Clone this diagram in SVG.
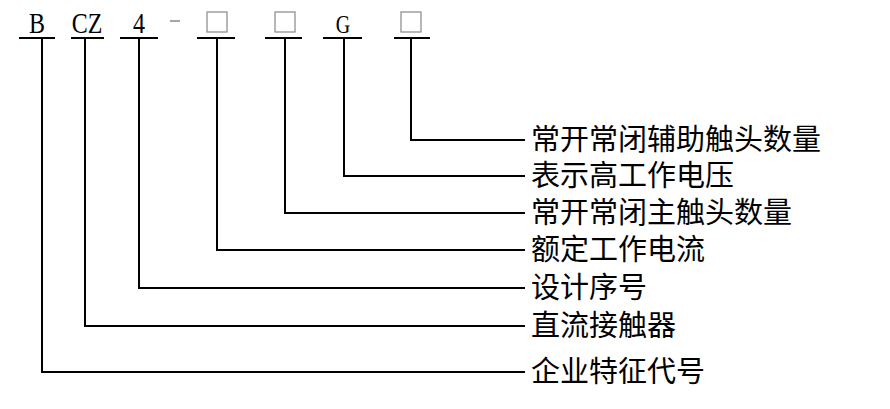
<svg xmlns="http://www.w3.org/2000/svg" width="890" height="409" viewBox="0 0 890 409">
<style>
.c{stroke:#000;stroke-width:2;fill:none}
.t{font-family:"Liberation Serif","Noto Sans CJK SC",serif;font-size:29px;fill:#000}
.h{font-family:"Liberation Serif",serif;font-size:30px;fill:#000;text-anchor:middle}
.b{fill:#fff;stroke:#888;stroke-width:1.2}
</style>
<rect width="890" height="409" fill="#fff"/>
<g id="code">
<text class="h" transform="translate(37 33) scale(0.8 1)">B</text>
<text class="h" transform="translate(87 33) scale(0.8 1)">CZ</text>
<text class="h" transform="translate(139 33) scale(0.8 1)">4</text>
<line x1="170" y1="21" x2="180" y2="21" stroke="#888" stroke-width="1.5"/>
<rect class="b" x="207" y="12" width="20" height="20"/>
<rect class="b" x="275" y="12" width="20" height="20"/>
<text class="h" transform="translate(343 33) scale(0.8 1)" style="font-size:25px">G</text>
<rect class="b" x="401" y="12" width="20" height="20"/>
</g>
<g id="connectors" class="c">
<path d="M19 38H55M71 38H104M120 38H158M197 38H235M265 38H302M323 38H362M394 38H430"/>
<path d="M411 38V140H525"/>
<path d="M344 38V176H525"/>
<path d="M285 38V213H525"/>
<path d="M217 38V250H525"/>
<path d="M139 38V288H525"/>
<path d="M85 38V326H525"/>
<path d="M42 38V372H525"/>
</g>
<g id="labels">
<text class="t" x="531" y="150">常开常闭辅助触头数量</text>
<text class="t" x="531" y="186">表示高工作电压</text>
<text class="t" x="531" y="223">常开常闭主触头数量</text>
<text class="t" x="531" y="260">额定工作电流</text>
<text class="t" x="531" y="298">设计序号</text>
<text class="t" x="531" y="336">直流接触器</text>
<text class="t" x="531" y="382">企业特征代号</text>
</g>
</svg>
